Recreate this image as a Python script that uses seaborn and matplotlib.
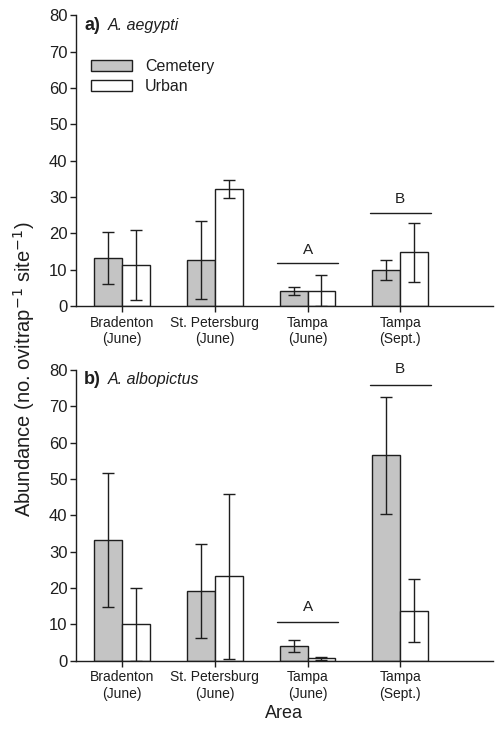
import matplotlib
matplotlib.use("Agg")
import matplotlib.pyplot as plt
import numpy as np
import pandas as pd
import seaborn as sns

areas = ["Bradenton\n(June)", "St. Petersburg\n(June)", "Tampa\n(June)", "Tampa\n(Sept.)"]
habitats = ["Cemetery", "Urban"]

# panel a) A. aegypti
aeg_cem = [13.1, 12.6, 4.0, 9.9]
aeg_cem_lo = [6.0, 1.8, 3.0, 7.2]
aeg_cem_hi = [20.3, 23.3, 5.2, 12.5]
aeg_urb = [11.2, 32.1, 4.2, 14.8]
aeg_urb_lo = [1.5, 29.6, 0.0, 6.6]
aeg_urb_hi = [21.0, 34.6, 8.4, 22.8]

# panel b) A. albopictus
alb_cem = [33.2, 19.2, 4.0, 56.5]
alb_cem_lo = [14.7, 6.3, 2.4, 40.4]
alb_cem_hi = [51.7, 32.0, 5.6, 72.6]
alb_urb = [10.0, 23.2, 0.6, 13.8]
alb_urb_lo = [0.0, 0.4, 0.3, 5.0]
alb_urb_hi = [19.9, 46.0, 1.0, 22.4]

# significance groups: (letter, area index, line height, text height)
aeg_groups = [("A", 2, 11.7, 15.4), ("B", 3, 25.7, 29.4)]
alb_groups = [("A", 2, 10.6, 14.9), ("B", 3, 76.0, 80.3)]

GRAY = "#c4c4c4"
INK = "#1e1e1e"
FONT = ["Liberation Sans", "DejaVu Sans"]

sns.set_style("ticks")
plt.rcParams["font.family"] = FONT
plt.rcParams["axes.linewidth"] = 1.0
plt.rcParams["text.color"] = INK
plt.rcParams["axes.labelcolor"] = INK
plt.rcParams["xtick.color"] = INK
plt.rcParams["ytick.color"] = INK
plt.rcParams["axes.edgecolor"] = INK


def make_df(cem, urb):
    return pd.DataFrame({
        "Area": areas * 2,
        "Habitat": ["Cemetery"] * 4 + ["Urban"] * 4,
        "Abundance": list(cem) + list(urb),
    })


def panel(ax, cem, cem_lo, cem_hi, urb, urb_lo, urb_hi, groups, tag, species, legend):
    df = make_df(cem, urb)
    sns.barplot(data=df, x="Area", y="Abundance", hue="Habitat", order=areas,
                hue_order=habitats, palette=[GRAY, "white"], errorbar=None,
                width=0.6, gap=0, edgecolor=INK, linewidth=1.0,
                saturation=1, legend=legend, ax=ax)

    for cont, vals, lo, hi in zip(ax.containers, [cem, urb], [cem_lo, urb_lo], [cem_hi, urb_hi]):
        xs = [p.get_x() + p.get_width() / 2 for p in cont.patches]
        vals = np.array(vals)
        yerr = [vals - np.array(lo), np.array(hi) - vals]
        ax.errorbar(xs, vals, yerr=yerr, fmt="none", ecolor=INK,
                    elinewidth=1.0, capsize=4, capthick=1.0, zorder=3)

    for letter, idx, yline, ytext in groups:
        ax.plot([idx - 0.33, idx + 0.33], [yline, yline], color=INK, lw=1.0, clip_on=False)
        ax.text(idx, ytext, letter, ha="center", va="center", fontsize=11, clip_on=False)

    ax.set_xlim(-0.5, 4.0)
    ax.set_ylim(0, 80)
    ax.set_yticks(range(0, 81, 10))
    ax.tick_params(axis="y", labelsize=12, direction="out", length=4, width=1.0, pad=2)
    ax.tick_params(axis="x", labelsize=10, direction="out", length=4, width=1.0, pad=3)
    ax.set_xlabel("")
    ax.set_ylabel("")
    sns.despine(ax=ax)

    ax.text(-0.41, 77.3, tag, fontsize=13, fontweight="bold", ha="left", va="center")
    ax.text(-0.16, 77.3, species, fontsize=11.5, fontstyle="italic", ha="left", va="center")

    if legend:
        ax.legend(loc="upper left", bbox_to_anchor=(0.02, 0.87), frameon=False,
                  fontsize=11.5, handlelength=2.6, handleheight=0.7,
                  labelspacing=0.3, borderaxespad=0)


fig = plt.figure(figsize=(5.02, 7.30), dpi=100)
ax1 = fig.add_axes([0.151, 0.581, 0.831, 0.398])
ax2 = fig.add_axes([0.151, 0.095, 0.831, 0.398])

panel(ax1, aeg_cem, aeg_cem_lo, aeg_cem_hi, aeg_urb, aeg_urb_lo, aeg_urb_hi,
      aeg_groups, "a)", "A. aegypti", True)
panel(ax2, alb_cem, alb_cem_lo, alb_cem_hi, alb_urb, alb_urb_lo, alb_urb_hi,
      alb_groups, "b)", "A. albopictus", False)

ax2.set_xlabel("Area", fontsize=13, labelpad=3)
fig.text(0.048, 0.494, "Abundance (no. ovitrap$^{-1}$ site$^{-1}$)", rotation=90,
         ha="center", va="center", fontsize=14.5)

fig.savefig("out.png", dpi=100)
